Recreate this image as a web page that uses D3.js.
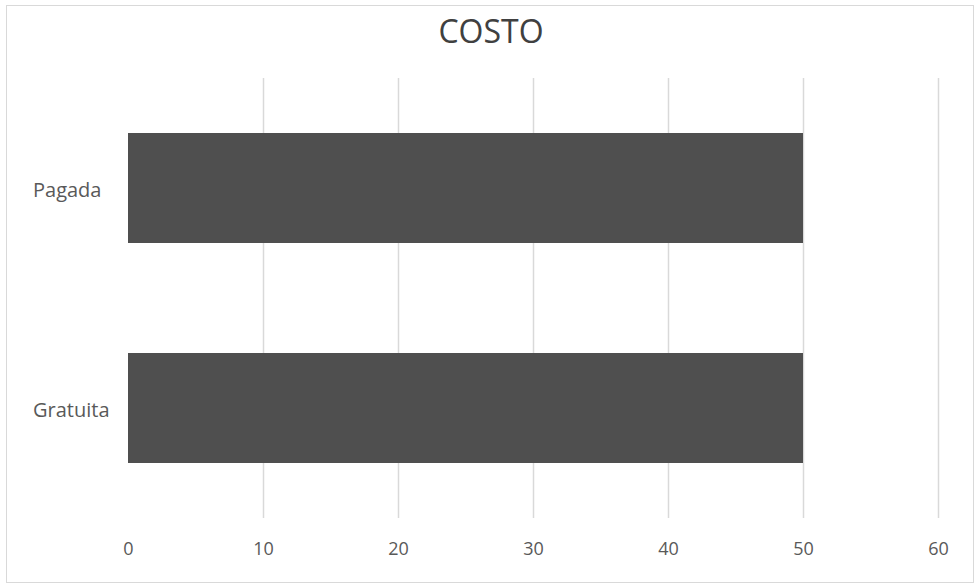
<!DOCTYPE html>
<html>
<head>
<meta charset="utf-8">
<script src="https://cdn.jsdelivr.net/npm/d3@7"></script>
<style>
  html, body { margin: 0; padding: 0; background: #fff; }
  svg { display: block; }
</style>
</head>
<body>
<svg id="chart" width="975" height="586"></svg>
<script>
// Categories (top to bottom) and their values
const categories = ["Pagada", "Gratuita"];
const values = [50, 50];
const xTicks = [0, 10, 20, 30, 40, 50, 60];
const title = "COSTO";

const W = 975, H = 586;
const margin = { top: 78, right: 37, bottom: 68, left: 128 };
const svg = d3.select("#chart");
const font = "'Open Sans', 'Noto Sans', sans-serif";

// Chart frame
svg.append("rect")
  .attr("x", 6.5).attr("y", 5.5)
  .attr("width", 967).attr("height", 577)
  .attr("fill", "#fff")
  .attr("stroke", "#d9d9d9").attr("stroke-width", 1);

const x = d3.scaleLinear()
  .domain([0, 60])
  .range([margin.left, W - margin.right]);

const y = d3.scaleBand()
  .domain(categories)
  .range([margin.top, H - margin.bottom])
  .paddingInner(0.5)
  .paddingOuter(0.25);

// Vertical gridlines
svg.append("g")
  .selectAll("line")
  .data(xTicks.filter(d => d > 0))
  .join("line")
  .attr("x1", d => Math.round(x(d)) + 0.5)
  .attr("x2", d => Math.round(x(d)) + 0.5)
  .attr("y1", margin.top)
  .attr("y2", H - margin.bottom)
  .attr("stroke", "#d9d9d9")
  .attr("stroke-width", 1.5);

// Bars
svg.append("g")
  .selectAll("rect")
  .data(categories.map((c, i) => ({ c, v: values[i] })))
  .join("rect")
  .attr("x", x(0))
  .attr("y", d => y(d.c))
  .attr("width", d => x(d.v) - x(0))
  .attr("height", y.bandwidth())
  .attr("fill", "#4f4f4f");

// X axis tick labels
const xAxis = d3.axisBottom(x).tickValues(xTicks).tickSize(0).tickPadding(0);
const gx = svg.append("g")
  .attr("transform", `translate(0, ${H - margin.bottom + 31})`)
  .call(xAxis);
gx.select(".domain").remove();
gx.selectAll("text")
  .attr("font-family", font)
  .attr("font-size", 18)
  .attr("fill", "#595959")
  .attr("dy", "0.35em");

// Category labels, left-aligned in the margin
const yAxis = d3.axisLeft(y).tickSize(0).tickPadding(0);
const gy = svg.append("g")
  .attr("transform", `translate(${margin.left}, 3)`)
  .call(yAxis);
gy.select(".domain").remove();
gy.selectAll("text")
  .attr("x", 33 - margin.left)
  .attr("text-anchor", "start")
  .attr("font-family", font)
  .attr("font-size", 20)
  .attr("fill", "#595959");

// Title
svg.append("text")
  .attr("x", 491)
  .attr("y", 30)
  .attr("text-anchor", "middle")
  .attr("dominant-baseline", "central")
  .attr("font-family", font)
  .attr("font-size", 32)
  .attr("fill", "#404040")
  .text(title);
</script>
</body>
</html>
